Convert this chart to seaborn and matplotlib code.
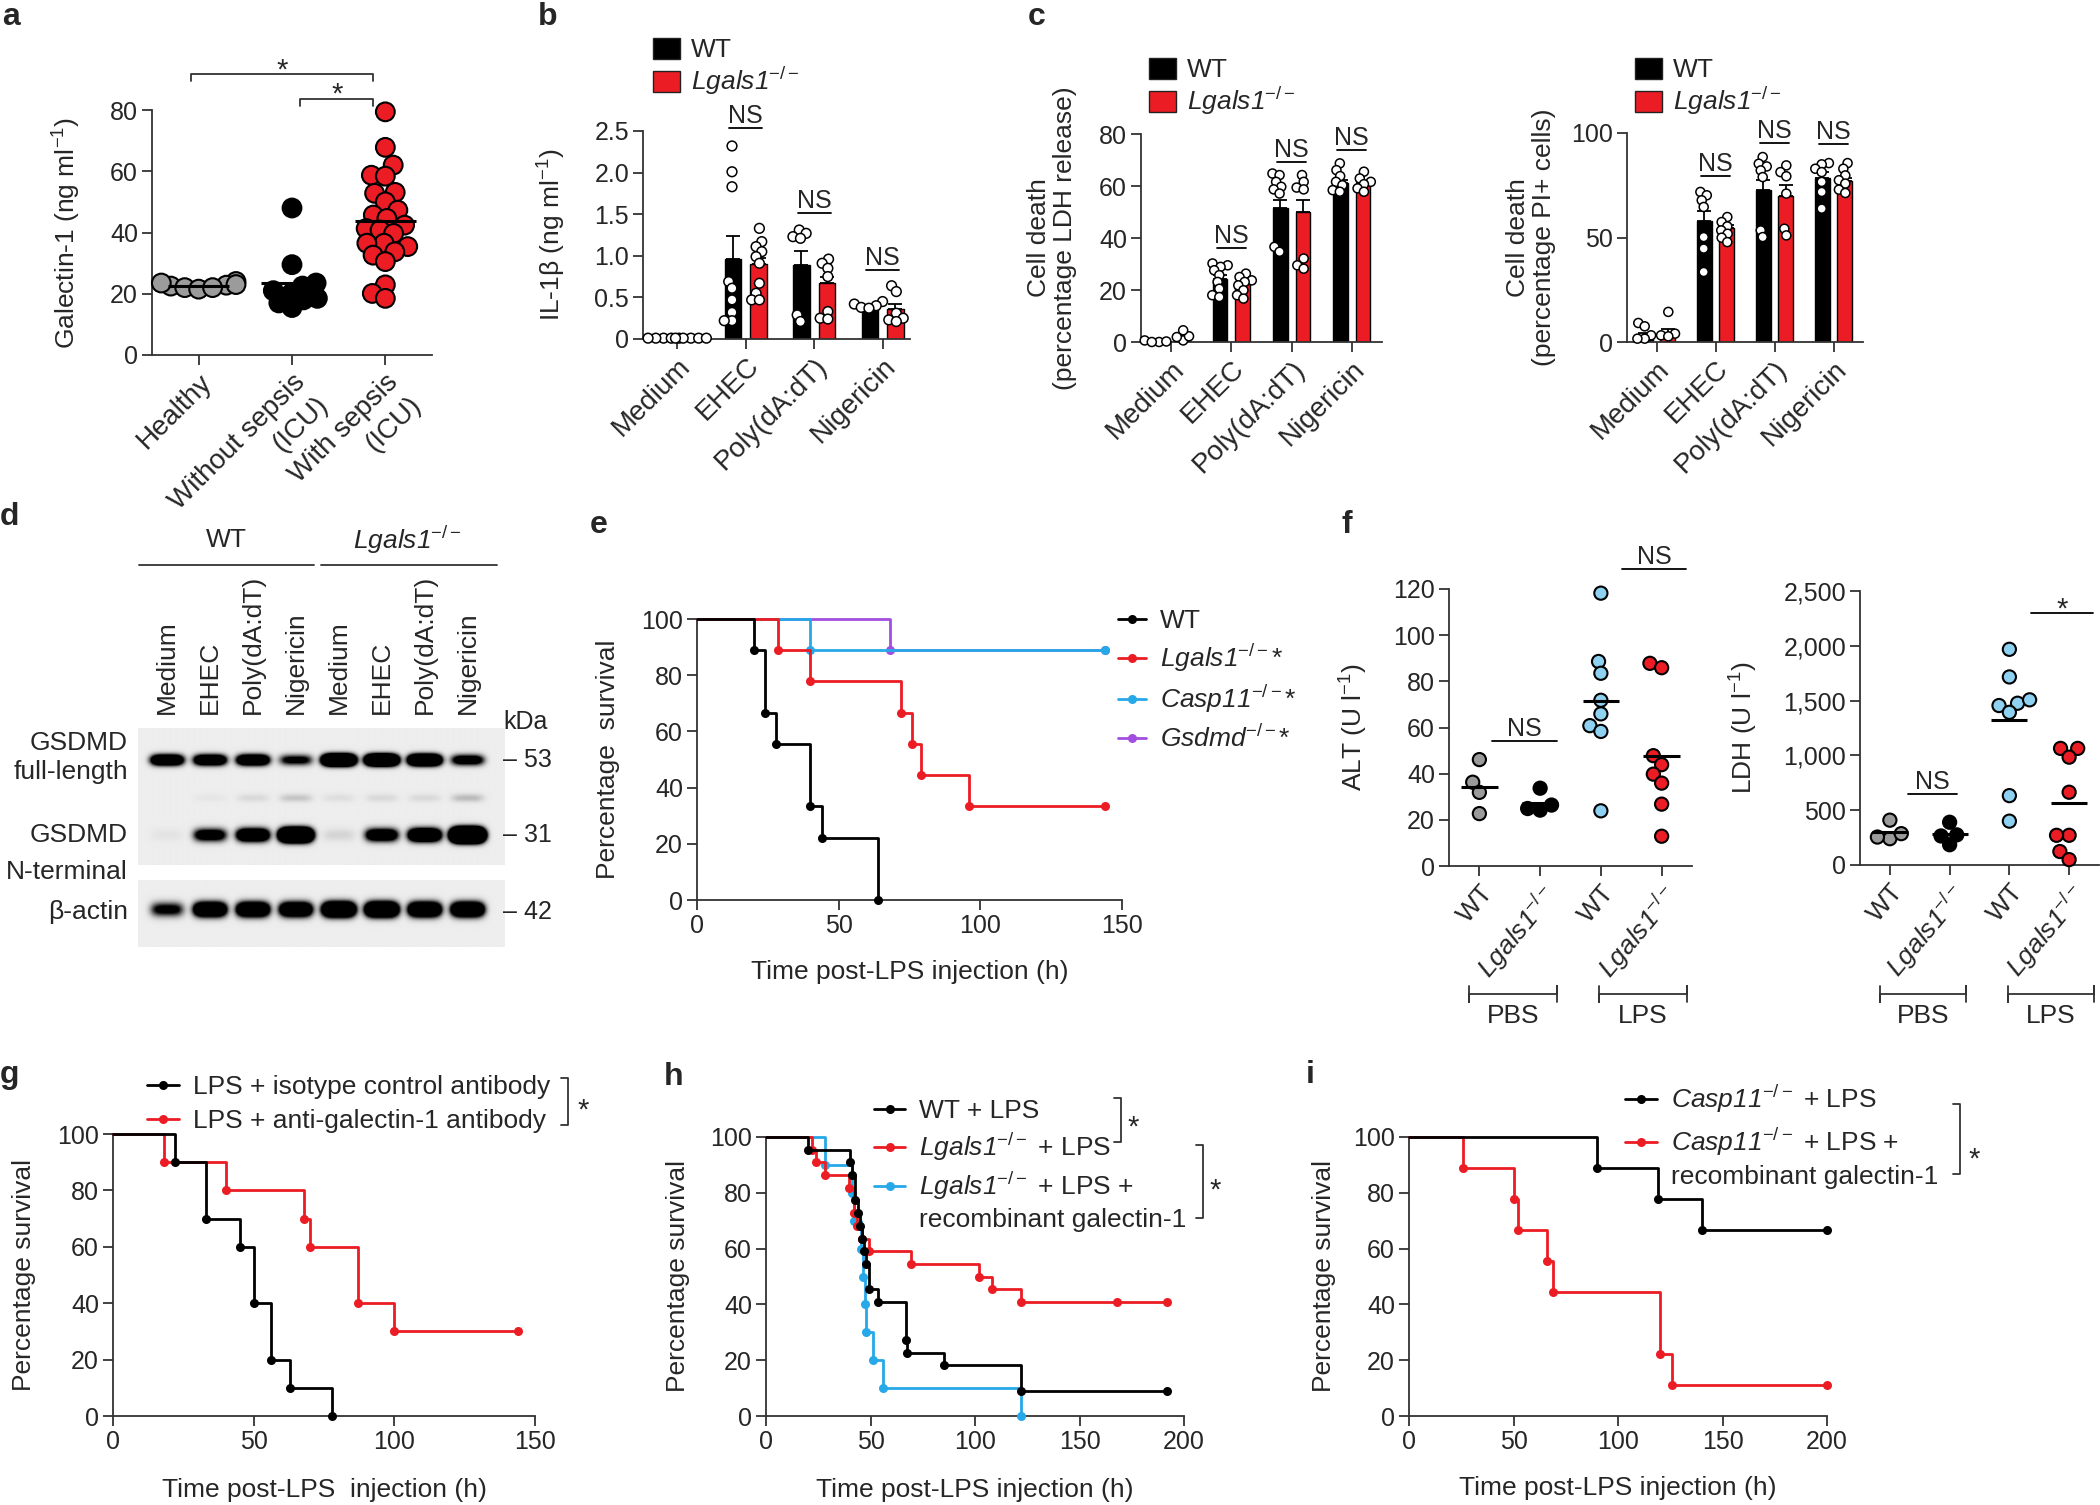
import numpy as np
import pandas as pd
import matplotlib
matplotlib.use("Agg")
import matplotlib.pyplot as plt
import matplotlib.transforms as mtransforms
from matplotlib.lines import Line2D
from matplotlib.patches import Rectangle
import seaborn as sns

# ------------------------
# Data
# ------------------------
# a: serum galectin-1 (ng/ml)
a_groups = ["Healthy", "Without sepsis\n(ICU)", "With sepsis\n(ICU)"]
a_healthy = [22.5, 24.0, 22.0, 23.5, 22.8, 21.5, 23.0, 22.0]
a_no_sepsis = [48.0, 29.5, 23.5, 22.5, 21.0, 20.0, 18.5, 18.0, 17.0, 15.5]
a_sepsis = [79.4, 67.8, 62.0, 58.7, 58.4, 52.8, 53.1, 50.0, 47.3, 45.7, 44.6, 42.4,
            41.3, 40.8, 39.7, 36.5, 35.4, 36.5, 33.7, 32.6, 30.5, 22.9, 20.1, 18.5]

conditions = ["Medium", "EHEC", "Poly(dA:dT)", "Nigericin"]

# b: IL-1beta (ng/ml)
b_wt_mean = [0.01, 0.96, 0.89, 0.37]
b_wt_sem = [0.005, 0.28, 0.17, 0.03]
b_ko_mean = [0.01, 0.90, 0.67, 0.36]
b_ko_sem = [0.005, 0.07, 0.08, 0.06]
b_wt_pts = [[0.01, 0.01, 0.01, 0.01, 0.01],
            [2.32, 2.01, 1.83, 0.69, 0.61, 0.47, 0.32, 0.22, 0.22],
            [1.31, 1.27, 1.23, 1.21, 0.29, 0.21],
            [0.45, 0.42, 0.40, 0.38, 0.37]]
b_ko_pts = [[0.01, 0.01, 0.01, 0.01, 0.01],
            [1.33, 1.17, 1.11, 1.05, 0.99, 0.91, 0.67, 0.55, 0.47, 0.47],
            [0.96, 0.91, 0.85, 0.75, 0.33, 0.25, 0.24],
            [0.64, 0.57, 0.31, 0.25, 0.23, 0.21]]

# c (left): LDH release (%)
cl_wt_mean = [0.3, 24.1, 51.7, 61.2]
cl_wt_sem = [0.2, 1.6, 3.1, 1.0]
cl_ko_mean = [2.0, 22.5, 50.0, 61.2]
cl_ko_sem = [0.6, 1.1, 4.8, 0.8]
cl_wt_pts = [[0.0, 0.6, 0.2, 0.0],
             [30.2, 29.5, 28.9, 27.6, 25.7, 23.1, 20.5, 18.0, 17.3],
             [64.8, 64.2, 61.6, 59.7, 58.7, 57.1, 36.6, 34.7],
             [68.7, 66.1, 63.8, 61.6, 60.3, 58.4, 57.8]]
cl_ko_pts = [[0.6, 2.2, 4.5, 1.9],
             [26.3, 25.0, 23.7, 23.1, 21.8, 19.9, 18.0, 16.7],
             [64.2, 61.6, 59.4, 58.7, 32.1, 29.5, 28.2],
             [65.5, 62.9, 61.6, 60.7, 59.1, 57.8]]

# c (right): PI+ cells (%)
cr_wt_mean = [3.0, 57.9, 72.9, 78.5]
cr_wt_sem = [1.5, 5.0, 4.5, 2.7]
cr_ko_mean = [4.0, 54.5, 69.9, 76.9]
cr_ko_sem = [2.0, 1.5, 5.0, 1.8]
cr_wt_pts = [[9.1, 7.5, 3.2, 1.6, 1.6],
             [71.8, 70.2, 67.8, 64.6, 50.2, 44.7, 33.5],
             [88.5, 85.3, 84.0, 82.1, 78.9, 53.4, 50.2],
             [85.6, 85.0, 82.9, 81.3, 76.6, 71.8, 63.8]]
cr_ko_pts = [[14.4, 4.0, 3.2, 2.7],
             [59.8, 57.4, 55.3, 53.4, 51.8, 49.9, 47.8],
             [84.5, 81.3, 79.3, 71.0, 54.2, 51.0],
             [85.6, 82.9, 79.7, 77.4, 75.8, 72.9, 71.3]]

# d: western blot band intensities (arbitrary units, 8 lanes)
blot_lanes = ["Medium", "EHEC", "Poly(dA:dT)", "Nigericin"] * 2
gsdmd_full = [2.6, 2.4, 2.6, 1.2, 5.5, 5.0, 4.2, 1.6]
gsdmd_faint = [0.0, 0.03, 0.08, 0.16, 0.06, 0.08, 0.08, 0.2]
gsdmd_nterm = [0.04, 1.6, 2.6, 6.0, 0.1, 2.0, 3.0, 9.0]
beta_actin = [1.2, 3.0, 3.0, 2.8, 4.0, 4.0, 3.2, 3.2]

# e: survival (time h, % survival)
e_wt_t = [0, 20, 24, 28, 40, 44, 64]
e_wt_s = [100, 88.9, 66.7, 55.6, 33.3, 22.2, 0]
e_ko_t = [0, 28.5, 40, 72, 76, 79, 96, 144]
e_ko_s = [100, 88.9, 77.8, 66.7, 55.6, 44.4, 33.3, 33.3]
e_casp_t = [0, 40, 144]
e_casp_s = [100, 88.9, 88.9]
e_gsdmd_t = [0, 68, 144]
e_gsdmd_s = [100, 88.9, 88.9]

# f: serum ALT and LDH (U/l); groups PBS-WT, PBS-KO, LPS-WT, LPS-KO
alt_vals = [[46.1, 36.3, 31.9, 22.7],
            [33.7, 24.2, 26.4, 24.9],
            [118.2, 88.6, 83.5, 71.8, 65.9, 60.8, 58.3, 23.9],
            [87.8, 85.9, 47.8, 43.9, 39.8, 35.9, 26.8, 12.9]]
ldh_vals = [[409, 240, 286, 255],
            [390, 185, 265, 275],
            [1968, 1716, 1476, 1507, 1455, 1393, 633, 400],
            [1064, 1064, 984, 664, 271, 271, 123, 49]]

# g
g_iso_t = [0, 22, 33, 45, 50, 56, 63, 78]
g_iso_s = [100, 90, 70, 60, 40, 20, 10, 0]
g_anti_t = [0, 18, 40, 68, 70, 87, 100, 144]
g_anti_s = [100, 90, 80, 70, 60, 40, 30, 30]

# h
h_wt_t = [0, 20, 40, 41, 42.5, 44, 45, 46, 47, 48, 49.5, 53.5, 67, 67.5, 85, 122, 192]
h_wt_s = [100, 95.5, 90.9, 86.4, 77.3, 72.7, 68.2, 63.6, 59.1, 54.5, 45.5, 40.9,
          27.3, 22.7, 18.2, 9.1, 9.1]
h_ko_t = [0, 22, 24, 28, 39.5, 42, 43.5, 46, 49.5, 69.5, 102, 108, 122, 168, 192]
h_ko_s = [100, 95.5, 90.9, 86.4, 81.8, 72.7, 68.2, 63.6, 59.1, 54.5, 50.0, 45.5,
          40.9, 40.9, 40.9]
h_rec_t = [0, 28, 41, 42, 45.5, 46.5, 47.5, 48, 51, 56, 122]
h_rec_s = [100, 90, 80, 70, 60, 50, 40, 30, 20, 10, 0]

# i
i_lps_t = [0, 90, 119, 140, 200]
i_lps_s = [100, 88.9, 77.8, 66.7, 66.7]
i_rec_t = [0, 26, 50, 52, 66, 69, 120, 126, 200]
i_rec_s = [100, 88.9, 77.8, 66.7, 55.6, 44.4, 22.2, 11.1, 11.1]

# ------------------------
# Style
# ------------------------
sns.set_style("ticks")
plt.rcParams.update({
    "font.family": ["Liberation Sans", "DejaVu Sans"],
    "mathtext.fontset": "custom",
    "mathtext.rm": "Liberation Sans",
    "mathtext.it": "Liberation Sans:italic",
    "mathtext.sf": "Liberation Sans:italic",
    "mathtext.bf": "Liberation Sans:bold",
    "axes.linewidth": 1.3,
    "axes.edgecolor": "#333333",
})

RED = "#ec1c24"
GREY = "#9b9b9b"
LBLUE = "#8fd1f1"
SBLUE = "#27a8e8"
PURPLE = "#a24ee0"


def gene(name):
    # italic gene name (digits too) with -/- superscript
    return r"$\mathsf{" + name + r"}^{-/-}$"


KO = gene("Lgals1")
f_labels = ["WT", KO, "WT", KO]

W, H = 2100, 1505
fig = plt.figure(figsize=(W / 100, H / 100), dpi=100)
to_grow = []  # swarm collections laid out compactly, enlarged after layout


def fx(x):
    return x / W


def fy(y):
    return 1 - y / H


def box(l, t, r, b):
    return fig.add_axes([fx(l), fy(b), (r - l) / W, (b - t) / H])


def prism(ax, fs=18):
    sns.despine(ax=ax)
    for s in ax.spines.values():
        s.set_linewidth(1.3)
        s.set_color("#333333")
    ax.tick_params(direction="out", length=7, width=1.3, color="#333333",
                   labelsize=fs, pad=3)


def ylab(ax, text, x, fs=19):
    ax.set_ylabel(text, fontsize=fs, va="center", ha="center", linespacing=1.1)
    bb = ax.get_position()
    ax.yaxis.set_label_coords(fx(x), (bb.y0 + bb.y1) / 2, transform=fig.transFigure)


def xlab(ax, text, y, fs=19):
    ax.set_xlabel(text, fontsize=fs, va="center", ha="center")
    bb = ax.get_position()
    ax.xaxis.set_label_coords((bb.x0 + bb.x1) / 2, fy(y), transform=fig.transFigure)


def cat_labels(ax, labels, rot, fs=20, ls=1.3):
    ax.set_xticks(range(len(labels)))
    ax.set_xticklabels(labels, rotation=rot, ha="right", va="top",
                       rotation_mode="anchor", fontsize=fs, linespacing=ls,
                       multialignment="right")
    ax.set_xlabel("")


def letter(ch, x, y):
    fig.text(fx(x), fy(y), ch, fontsize=23, fontweight="bold", ha="left", va="baseline")


def ns(ax, x0, x1, y, text="NS", fs=18):
    ax.plot([x0, x1], [y, y], color="black", lw=1.3, clip_on=False)
    ax.text((x0 + x1) / 2, y, text, ha="center", va="bottom", fontsize=fs)


def bar_legend(x, y_top):
    for k, (c, lab) in enumerate([("black", "WT"), (RED, KO)]):
        yy = y_top + k * 33
        fig.add_artist(Rectangle((fx(x), fy(yy + 21)), 27 / W, 21 / H, facecolor=c,
                                 edgecolor="#222222", lw=1, transform=fig.transFigure))
        fig.text(fx(x + 38), fy(yy + 19), lab, fontsize=19, ha="left", va="baseline")


def bar_panel(ax, wt_mean, wt_sem, ko_mean, ko_sem, wt_pts, ko_pts, ptsize):
    bars = pd.DataFrame({"cond": conditions * 2,
                         "geno": ["WT"] * 4 + ["KO"] * 4,
                         "val": wt_mean + ko_mean})
    sns.barplot(data=bars, x="cond", y="val", hue="geno", order=conditions,
                hue_order=["WT", "KO"], palette={"WT": "black", "KO": RED},
                saturation=1, width=0.75, gap=0.36, edgecolor="black", linewidth=1.0,
                errorbar=None, legend=False, ax=ax)
    xs = [p.get_x() + p.get_width() / 2 for p in ax.patches]
    hs = [p.get_height() for p in ax.patches]
    ax.errorbar(xs, hs, yerr=[np.zeros(len(hs)), wt_sem + ko_sem], fmt="none",
                ecolor="black", elinewidth=1.3, capsize=5, capthick=1.3, zorder=3)
    rows = []
    for g, pts in (("WT", wt_pts), ("KO", ko_pts)):
        for c, vals in zip(conditions, pts):
            rows += [(c, g, v) for v in vals]
    pts = pd.DataFrame(rows, columns=["cond", "geno", "val"])
    n0 = len(ax.collections)
    sns.swarmplot(data=pts, x="cond", y="val", hue="geno", order=conditions,
                  hue_order=["WT", "KO"], dodge=True,
                  palette={"WT": "white", "KO": "white"}, edgecolor="black",
                  linewidth=1.1, size=ptsize * 0.6, legend=False, ax=ax, zorder=4,
                  clip_on=False)
    to_grow.extend((c, ptsize) for c in ax.collections[n0:])
    prism(ax)
    ax.set_xlim(-0.5, 3.5)
    cat_labels(ax, conditions, 45)


def dot_panel(ax, groups, vals_list, colors, size, half=0.32, layout=0.7):
    rows = [(g, v) for g, vals in zip(groups, vals_list) for v in vals]
    df = pd.DataFrame(rows, columns=["grp", "val"])
    n0 = len(ax.collections)
    sns.swarmplot(data=df, x="grp", y="val", hue="grp", order=groups, hue_order=groups,
                  palette=dict(zip(groups, colors)), size=size * layout,
                  edgecolor="black", linewidth=1.5, legend=False, ax=ax, zorder=3,
                  clip_on=False)
    to_grow.extend((c, size) for c in ax.collections[n0:])
    for i, vals in enumerate(vals_list):
        ax.plot([i - half, i + half], [np.mean(vals)] * 2, color="black", lw=2.2,
                zorder=5, solid_capstyle="butt")
    prism(ax)
    ax.set_xlim(-0.5, len(groups) - 0.5)


def km(ax, t, s, color):
    sns.lineplot(x=t, y=s, ax=ax, color=color, linewidth=2.0, drawstyle="steps-post",
                 marker="o", markersize=6.5, markeredgewidth=0,
                 markevery=list(range(1, len(t))), estimator=None, sort=False,
                 clip_on=False, zorder=3)


def surv_axes(ax, xmax, step):
    prism(ax)
    ax.set_xlim(0, xmax)
    ax.set_ylim(0, 100)
    ax.set_xticks(np.arange(0, xmax + 1, step))
    ax.set_yticks(range(0, 101, 20))


def leg_row(x0, x1, y, color, label, tx, fs=19):
    fig.add_artist(Line2D([fx(x0), fx(x1)], [fy(y)] * 2, color=color, lw=2,
                          transform=fig.transFigure))
    fig.add_artist(Line2D([fx((x0 + x1) / 2)], [fy(y)], marker="o", color=color,
                          ms=6.5, mew=0, transform=fig.transFigure))
    if label:
        fig.text(fx(tx), fy(y + 9), label, fontsize=fs, ha="left", va="baseline")


def leg_bracket(x, y0, y1, sx, sy):
    fig.add_artist(Line2D([fx(x - 7), fx(x), fx(x), fx(x - 7)],
                          [fy(y0), fy(y0), fy(y1), fy(y1)], color="#333333", lw=1.3,
                          transform=fig.transFigure))
    fig.text(fx(sx), fy(sy), "*", fontsize=21, ha="center", va="baseline")


# ------------------------
# a
# ------------------------
ax = box(152, 110, 432, 355)
dot_panel(ax, a_groups, [a_healthy, a_no_sepsis, a_sepsis], [GREY, "black", RED], 13.5,
          half=0.33, layout=0.6)
ax.set_ylim(0, 80)
ax.set_yticks(range(0, 81, 20))
cat_labels(ax, a_groups, 45)
ylab(ax, "Galectin-1 (ng ml$^{-1}$)", 67)
for x0, x1, y, star_y in [(-0.08, 1.87, 91.8, 90.4), (1.09, 1.87, 83.6, 82.3)]:
    ax.plot([x0, x0, x1, x1], [y - 2.3, y, y, y - 2.3], color="#333333", lw=1.3,
            clip_on=False)
    ax.text((x0 + x1) / 2, star_y, "*", ha="center", va="baseline", fontsize=21)
letter("a", 2, 25)

# ------------------------
# b
# ------------------------
ax = box(643, 131, 910, 339)
bar_panel(ax, b_wt_mean, b_wt_sem, b_ko_mean, b_ko_sem, b_wt_pts, b_ko_pts, 7)
ax.set_xlim(-0.5, 3.4)
ax.set_ylim(0, 2.5)
ax.set_yticks([0, 0.5, 1.0, 1.5, 2.0, 2.5])
ax.set_yticklabels(["0", "0.5", "1.0", "1.5", "2.0", "2.5"])
ylab(ax, "IL-1β (ng ml$^{-1}$)", 552)
for i, y in zip([1, 2, 3], [2.54, 1.51, 0.83]):
    ns(ax, i - 0.24, i + 0.24, y)
bar_legend(653, 38)
letter("b", 538, 25)

# ------------------------
# c (left)
# ------------------------
ax = box(1141, 134, 1382, 342)
bar_panel(ax, cl_wt_mean, cl_wt_sem, cl_ko_mean, cl_ko_sem, cl_wt_pts, cl_ko_pts, 6.5)
ax.set_ylim(0, 80)
ax.set_yticks(range(0, 81, 20))
ylab(ax, "Cell death\n(percentage LDH release)", 1052)
for i, y in zip([1, 2, 3], [36.2, 69.2, 73.8]):
    ns(ax, i - 0.24, i + 0.24, y)
bar_legend(1149, 58)
letter("c", 1028, 25)

# ------------------------
# c (right)
# ------------------------
ax = box(1627, 133, 1863, 342)
bar_panel(ax, cr_wt_mean, cr_wt_sem, cr_ko_mean, cr_ko_sem, cr_wt_pts, cr_ko_pts, 6.5)
ax.set_ylim(0, 100)
ax.set_yticks([0, 50, 100])
ylab(ax, "Cell death\n(percentage PI+ cells)", 1531)
for i, y in zip([1, 2, 3], [79.4, 95.2, 94.7]):
    ns(ax, i - 0.25, i + 0.25, y)
bar_legend(1635, 58)

# ------------------------
# d (western blot)
# ------------------------
def blot(ax, height, rows):
    xs = np.linspace(-0.67, 7.86, 420)
    ys = np.arange(height) + 0.5
    img = np.full((height, xs.size), 0.07)
    for yc, sig, vals in rows:
        py = np.exp(-((ys - yc) / sig) ** 2)
        for lane, v in enumerate(vals):
            pxl = np.exp(-np.abs((xs - lane) / 0.37) ** 4)
            img += v * np.outer(py, pxl)
    ax.imshow(np.clip(img, 0, 1), cmap="gray_r", vmin=0, vmax=1,
              extent=(xs[0], xs[-1], height, 0), aspect="auto", interpolation="bilinear")
    ax.set_xlim(xs[0], xs[-1])
    ax.set_ylim(height, 0)
    ax.set_frame_on(False)
    ax.set_yticks([])


ax1 = box(138, 728, 505, 865)
blot(ax1, 137, [(32, 5.0, gsdmd_full), (70, 4.0, gsdmd_faint), (107, 6.0, gsdmd_nterm)])
ax1.set_xticks(range(8))
ax1.set_xticklabels(blot_lanes, rotation=90, fontsize=19)
ax1.tick_params(axis="x", top=True, labeltop=True, bottom=False, labelbottom=False,
                length=0, pad=10)
ax2 = box(138, 880, 505, 947)
blot(ax2, 67, [(30, 6.5, beta_actin)])
ax2.set_xticks([])

for txt, y in [("GSDMD", 743), ("full-length", 772), ("GSDMD", 835),
               ("N-terminal", 872), ("β-actin", 912)]:
    fig.text(fx(128), fy(y), txt, fontsize=19, ha="right", va="center")
for txt, y in [("kDa", 722), ("– 53", 760), ("– 31", 835), ("– 42", 912)]:
    fig.text(fx(503), fy(y), txt, fontsize=18, ha="left", va="center")
fig.text(fx(226), fy(540), "WT", fontsize=19, ha="center", va="center")
fig.text(fx(407), fy(540), KO, fontsize=19, ha="center", va="center")
for x0, x1 in [(139, 314), (321, 497)]:
    fig.add_artist(Line2D([fx(x0), fx(x1)], [fy(565)] * 2, color="#333333", lw=1.3,
                          transform=fig.transFigure))
letter("d", 0, 525)

# ------------------------
# e
# ------------------------
ax = box(697, 619, 1122, 900)
km(ax, e_gsdmd_t, e_gsdmd_s, PURPLE)
km(ax, e_casp_t, e_casp_s, SBLUE)
km(ax, e_ko_t, e_ko_s, RED)
km(ax, e_wt_t, e_wt_s, "black")
surv_axes(ax, 150, 50)
ylab(ax, "Percentage  survival", 608)
xlab(ax, "Time post-LPS injection (h)", 972)
for y, c, lab in [(619, "black", "WT"),
                  (658, RED, gene("Lgals1") + "*"),
                  (699, SBLUE, gene("Casp11") + "*"),
                  (738, PURPLE, gene("Gsdmd") + "*")]:
    leg_row(1118, 1146, y, c, lab, 1160)
letter("e", 590, 533)

# ------------------------
# f
# ------------------------
f_groups = ["PBS WT", "PBS KO", "LPS WT", "LPS KO"]
f_colors = [GREY, "black", LBLUE, RED]
for (l, t, r, b), vals, ymax, yticks, ylabels, ytxt, xlab_x in [
        ((1449, 589, 1692, 866), alt_vals, 120, range(0, 121, 20), None,
         "ALT (U l$^{-1}$)", 1354),
        ((1860, 591, 2099, 865), ldh_vals, 2500, range(0, 2501, 500),
         ["0", "500", "1,000", "1,500", "2,000", "2,500"], "LDH (U l$^{-1}$)", 1744)]:
    ax = box(l, t, r, b)
    dot_panel(ax, f_groups, vals, f_colors, 9.5, half=0.3, layout=0.75)
    ax.set_ylim(0, ymax)
    ax.set_yticks(list(yticks))
    if ylabels:
        ax.set_yticklabels(ylabels)
    cat_labels(ax, f_labels, 50, fs=19)
    ylab(ax, ytxt, xlab_x)
    tr = mtransforms.blended_transform_factory(ax.transData, fig.transFigure)
    for x0, x1, name in [(-0.17, 1.27, "PBS"), (1.97, 3.42, "LPS")]:
        ax.plot([x0, x0, x0, x1, x1, x1], [fy(986), fy(1002), fy(994), fy(994), fy(986),
                                           fy(1002)],
                color="#333333", lw=1.3, transform=tr, clip_on=False)
        ax.text((x0 + x1) / 2, fy(1016), name, fontsize=19, ha="center", va="center",
                transform=tr)
    if ymax == 120:
        ns(ax, 0.2, 1.28, 54.0)
        ns(ax, 2.35, 3.4, 128.6)
    else:
        ns(ax, 0.3, 1.13, 646)
        ax.plot([2.37, 3.4], [2297, 2297], color="black", lw=1.3, clip_on=False)
        ax.text(2.88, 2260, "*", fontsize=21, ha="center", va="baseline")
letter("f", 1341, 533)

# ------------------------
# g
# ------------------------
ax = box(113, 1134, 535, 1416)
km(ax, g_anti_t, g_anti_s, RED)
km(ax, g_iso_t, g_iso_s, "black")
surv_axes(ax, 150, 50)
ylab(ax, "Percentage survival", 24)
xlab(ax, "Time post-LPS  injection (h)", 1490)
leg_row(147, 179, 1085, "black", "LPS + isotype control antibody", 193)
leg_row(147, 179, 1119, RED, "LPS + anti-galectin-1 antibody", 193)
leg_bracket(568, 1078, 1125, 583, 1119)
letter("g", 0, 1083)

# ------------------------
# h
# ------------------------
ax = box(766, 1137, 1184, 1416)
km(ax, h_rec_t, h_rec_s, SBLUE)
km(ax, h_ko_t, h_ko_s, RED)
km(ax, h_wt_t, h_wt_s, "black")
surv_axes(ax, 200, 50)
ylab(ax, "Percentage survival", 678)
xlab(ax, "Time post-LPS injection (h)", 1490)
leg_row(874, 905, 1109, "black", "WT + LPS", 919)
leg_row(874, 905, 1147, RED, KO + " + LPS", 919)
leg_row(874, 905, 1186, SBLUE, KO + " + LPS +", 919)
fig.text(fx(919), fy(1227), "recombinant galectin-1", fontsize=19, ha="left",
         va="baseline")
leg_bracket(1121, 1098, 1142, 1133, 1136)
leg_bracket(1203, 1145, 1218, 1215, 1199)
letter("h", 664, 1085)

# ------------------------
# i
# ------------------------
ax = box(1409, 1137, 1827, 1416)
km(ax, i_rec_t, i_rec_s, RED)
km(ax, i_lps_t, i_lps_s, "black")
surv_axes(ax, 200, 50)
ylab(ax, "Percentage survival", 1324)
xlab(ax, "Time post-LPS injection (h)", 1488)
leg_row(1625, 1657, 1099, "black", gene("Casp11") + " + LPS", 1671)
leg_row(1625, 1657, 1142, RED, gene("Casp11") + " + LPS +", 1671)
fig.text(fx(1671), fy(1184), "recombinant galectin-1", fontsize=19, ha="left",
         va="baseline")
leg_bracket(1960, 1104, 1174, 1974, 1168)
letter("i", 1306, 1083)

# ------------------------
# Lay out swarms with small markers, then freeze positions and enlarge markers
# ------------------------
fig.canvas.draw()
for coll, size in to_grow:
    if "draw" in coll.__dict__:
        del coll.draw
    coll.set_sizes([size ** 2])

fig.savefig("out.png", dpi=100)
